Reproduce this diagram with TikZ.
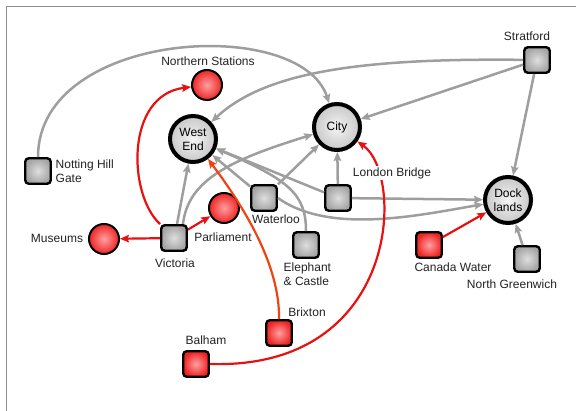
\documentclass[tikz,border=0pt]{standalone}
\usepackage{fontspec}
\setmainfont{Liberation Sans}
\usetikzlibrary{arrows.meta}
\definecolor{edgegray}{RGB}{158,158,158}
\definecolor{linered}{RGB}{232,16,16}
\definecolor{lineorange}{RGB}{238,68,16}
\definecolor{framegray}{RGB}{140,140,140}
\definecolor{textgray}{RGB}{34,34,34}
\definecolor{stationin}{RGB}{222,222,222}
\definecolor{stationout}{RGB}{165,165,165}
\definecolor{redin}{RGB}{255,160,160}
\definecolor{redout}{RGB}{238,36,36}
\definecolor{hubin}{RGB}{244,244,244}
\definecolor{hubout}{RGB}{200,200,200}
\tikzset{
  station/.style={rectangle, rounded corners=3.5pt, draw=black, line width=2.4pt,
    minimum size=25.5pt, inner sep=0pt, inner color=stationin, outer color=stationout},
  redstation/.style={station, inner color=redin, outer color=redout},
  hub/.style={circle, draw=black, line width=4pt, minimum size=46pt, inner sep=0pt,
    align=center, inner color=hubin, outer color=hubout},
  reddot/.style={circle, draw=black, line width=2pt, minimum size=30pt, inner sep=0pt,
    inner color=redin, outer color=redout},
  gline/.style={edgegray, line width=2.5pt, -{Stealth[length=9pt,width=7.5pt,inset=1.5pt]}},
  rline/.style={linered, line width=2.2pt, -{Stealth[length=9pt,width=7.5pt,inset=1.5pt]}},
  oline/.style={rline, lineorange},
  lbl/.style={inner sep=1.5pt, text=textgray}
}
\begin{document}
\begin{tikzpicture}[x=1pt, y=-1pt, font=\fontsize{12}{14}\selectfont]
    \useasboundingbox (0,0) rectangle (576,411);
    \draw[framegray, line width=1pt] (576,6.5) -- (6.5,6.5) -- (6.5,411);

    \node[hub] (westend) at (193,139) {West\\End};
    \node[hub] (city) at (337,127) {City};
    \node[hub] (docklands) at (508,200) {Dock\\lands};
    \node[reddot] (northern) at (207,85) {};
    \node[reddot] (museums) at (104,239) {};
    \node[reddot] (parliament) at (224,208) {};
    \node[station] (nhg) at (38,171) {};
    \node[station] (stratford) at (537,60) {};
    \node[station] (victoria) at (174,238) {};
    \node[station] (waterloo) at (264,198) {};
    \node[station] (londonbridge) at (338,198) {};
    \node[station] (elephant) at (306,245) {};
    \node[station] (greenwich) at (527,259) {};
    \node[redstation] (canada) at (429,245) {};
    \node[redstation] (brixton) at (279,333) {};
    \node[redstation] (balham) at (196,364) {};

    \foreach \a/\b in {stratford/city, stratford/docklands, waterloo/westend, waterloo/city,
                       londonbridge/westend, londonbridge/city, londonbridge/docklands, greenwich/docklands}
        \draw[gline] (\a) -- (\b);
    \draw[gline] (nhg) .. controls (38,30) and (300,15) .. (city);
    \draw[gline] (stratford) .. controls (360,58) and (265,72) .. (westend);
    \draw[gline] ([xshift=3pt]victoria.north) -- (westend);
    \draw[gline] ([xshift=9pt]victoria.north) .. controls (188,180) and (230,160) .. (city);
    \draw[gline] (elephant.north) .. controls (306,195) and (290,180) .. (westend);
    \draw[gline] (waterloo.east) .. controls (330,235) and (420,215) .. (docklands);

    \foreach \b in {museums, parliament}
        \draw[rline] (victoria) -- (\b);
    \draw[rline] (victoria.north west) .. controls (128,195) and (125,95) .. (northern);
    \draw[oline] (brixton.north) .. controls (280,270) and (250,215) .. (westend);
    \draw[rline] (balham.east) .. controls (400,370) and (405,175) .. (city);
    \draw[rline] (canada) -- (docklands);

    \node[lbl] (l-northern) at (208,61) {Northern Stations};
    \node[lbl, anchor=west, align=left] (l-nhg) at (54,171) {Notting Hill\\Gate};
    \node[lbl] (l-stratford) at (527,36) {Stratford};
    \node[lbl, fill=white] (l-londonbridge) at (392,173) {London Bridge};
    \node[lbl] (l-waterloo) at (276,219) {Waterloo};
    \node[lbl] (l-parliament) at (223,237) {Parliament};
    \node[lbl] (l-victoria) at (175,263) {Victoria};
    \node[lbl] (l-museums) at (57,238) {Museums};
    \node[lbl, anchor=west, align=left] (l-elephant) at (282,274) {Elephant\\\& Castle};
    \node[lbl] (l-canada) at (453,267) {Canada Water};
    \node[lbl] (l-greenwich) at (512,284) {North Greenwich};
    \node[lbl] (l-brixton) at (307,312) {Brixton};
    \node[lbl] (l-balham) at (206,340) {Balham};
\end{tikzpicture}
\end{document}
